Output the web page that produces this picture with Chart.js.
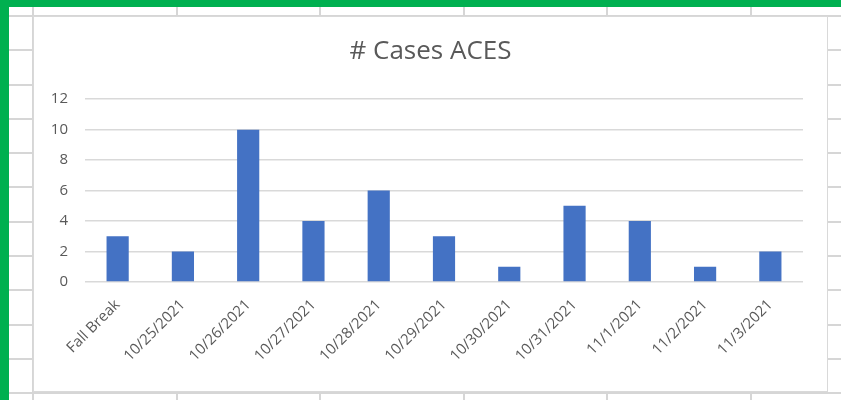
<!DOCTYPE html>
<html>
<head>
<meta charset="utf-8">
<script src="https://cdn.jsdelivr.net/npm/chart.js@4"></script>
<style>
    html, body { margin: 0; padding: 0; }
    body {
        width: 841px;
        height: 400px;
        position: relative;
        overflow: hidden;
        background-color: #ffffff;
        background-image:
            repeating-linear-gradient(to right, transparent 0, transparent 32px, #d6d6d6 32px, #d6d6d6 34px, transparent 34px, transparent 143.6px),
            repeating-linear-gradient(to bottom, transparent 0, transparent 15px, #d6d6d6 15px, #d6d6d6 17px, transparent 17px, transparent 34.3px);
    }
    .green-top { position: absolute; left: 0; top: 0; width: 841px; height: 7px; background: #00b050; }
    .green-left { position: absolute; left: 0; top: 0; width: 9px; height: 400px; background: #00b050; }
    .chart-box {
        position: absolute;
        left: 33px;
        top: 16px;
        width: 795px;
        height: 376px;
        background: #ffffff;
        border: 1px solid #d9d9d9;
        box-sizing: border-box;
    }
</style>
</head>
<body>
<div class="green-top"></div>
<div class="green-left"></div>
<div class="chart-box">
    <canvas id="casesChart"></canvas>
</div>
<script>
const labels = ["Fall Break", "10/25/2021", "10/26/2021", "10/27/2021", "10/28/2021", "10/29/2021",
                "10/30/2021", "10/31/2021", "11/1/2021", "11/2/2021", "11/3/2021"];
const cases = [3, 2, 10, 4, 6, 3, 1, 5, 4, 1, 2];
const yTicks = [0, 2, 4, 6, 8, 10, 12];

document.addEventListener("DOMContentLoaded", function () {

    const ctx = document.getElementById("casesChart").getContext("2d");

    new Chart(ctx, {
        type: "bar",
        data: {
            labels: labels,
            datasets: [{
                label: "# Cases ACES",
                data: cases,
                backgroundColor: "#4472c4",
                barPercentage: 0.34,
                categoryPercentage: 1
            }]
        },
        options: {
            responsive: true,
            maintainAspectRatio: false,
            animation: false,
            layout: { padding: 0 },
            plugins: {
                legend: { display: false },
                tooltip: { enabled: false },
                title: {
                    display: true,
                    text: "# Cases ACES",
                    color: "#595959",
                    font: { family: "Open Sans", size: 26, weight: "normal" },
                    padding: { top: 19, bottom: 32 }
                }
            },
            scales: {
                x: {
                    grid: { display: false },
                    border: { display: false },
                    ticks: {
                        color: "#595959",
                        font: { family: "Open Sans", size: 15 },
                        minRotation: 45,
                        maxRotation: 45,
                        padding: 6
                    },
                    afterFit: function (scale) { scale.height = 109; }
                },
                y: {
                    min: 0,
                    max: 12,
                    afterBuildTicks: function (scale) {
                        scale.ticks = yTicks.map(function (v) { return { value: v }; });
                    },
                    grid: { color: "#d9d9d9", lineWidth: 1.5, drawTicks: false },
                    border: { display: false },
                    ticks: {
                        color: "#595959",
                        font: { family: "Open Sans", size: 15 },
                        padding: 17
                    },
                    afterFit: function (scale) { scale.width = 51; }
                },
                // empty right axis, only keeps a margin so the title stays centred on the box
                spacer: {
                    position: "right",
                    grid: { display: false },
                    border: { display: false },
                    ticks: { display: false },
                    afterFit: function (scale) { scale.width = 24; }
                }
            }
        }
    });

});
</script>
</body>
</html>
